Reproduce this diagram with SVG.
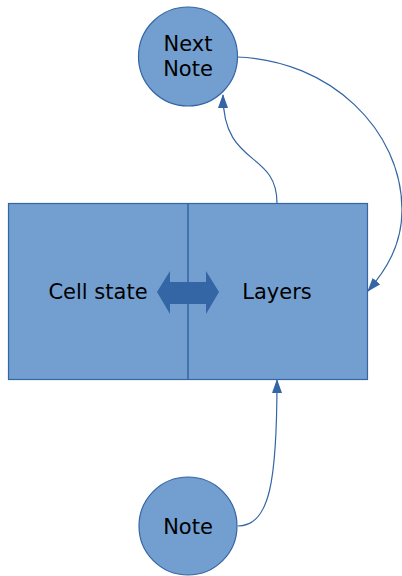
<svg xmlns="http://www.w3.org/2000/svg" width="402" height="576" viewBox="0 0 402 576">
  <style>
    .shape { fill: #729fcf; stroke: #3465a4; stroke-width: 1.2; }
    .label { font-family: "DejaVu Sans", "Liberation Sans", sans-serif; font-size: 21px; fill: #000; text-anchor: middle; }
    .link { fill: none; stroke: #3465a4; stroke-width: 1.2; }
  </style>
  <defs>
    <marker id="arrow" viewBox="0 0 14 10" refX="13" refY="5" markerWidth="14" markerHeight="10" markerUnits="userSpaceOnUse" orient="auto">
      <path d="M0,0 L14,5 L0,10 z" fill="#3465a4"/>
    </marker>
  </defs>
  <rect width="402" height="576" fill="#ffffff"/>

  <g id="cell">
    <rect class="shape" x="8.5" y="203.5" width="359" height="176"/>
    <line x1="188" y1="203.5" x2="188" y2="379.5" stroke="#3465a4" stroke-width="1.5"/>
    <text class="label" x="98" y="299">Cell state</text>
    <text class="label" x="277" y="299">Layers</text>
  </g>

  <g id="exchange">
    <polygon points="157,292 170,271 170,282 206,282 206,271 219,292 206,314 206,304 170,304 170,314" fill="#3465a4"/>
  </g>

  <g id="next-note">
    <circle class="shape" cx="188" cy="56.5" r="49.5"/>
    <text class="label" x="188" y="51">Next</text>
    <text class="label" x="188" y="76">Note</text>
  </g>

  <g id="note">
    <circle class="shape" cx="188" cy="526" r="49"/>
    <text class="label" x="188" y="534">Note</text>
  </g>

  <g id="connectors">
    <path class="link" d="M277,203 C277,150 223,168 223,95" marker-end="url(#arrow)"/>
    <path class="link" d="M237,57 C330,60 402,130 402,210 C402,245 386,270 368,291" marker-end="url(#arrow)"/>
    <path class="link" d="M238,526 C270,526 277,480 277,380" marker-end="url(#arrow)"/>
  </g>
</svg>
